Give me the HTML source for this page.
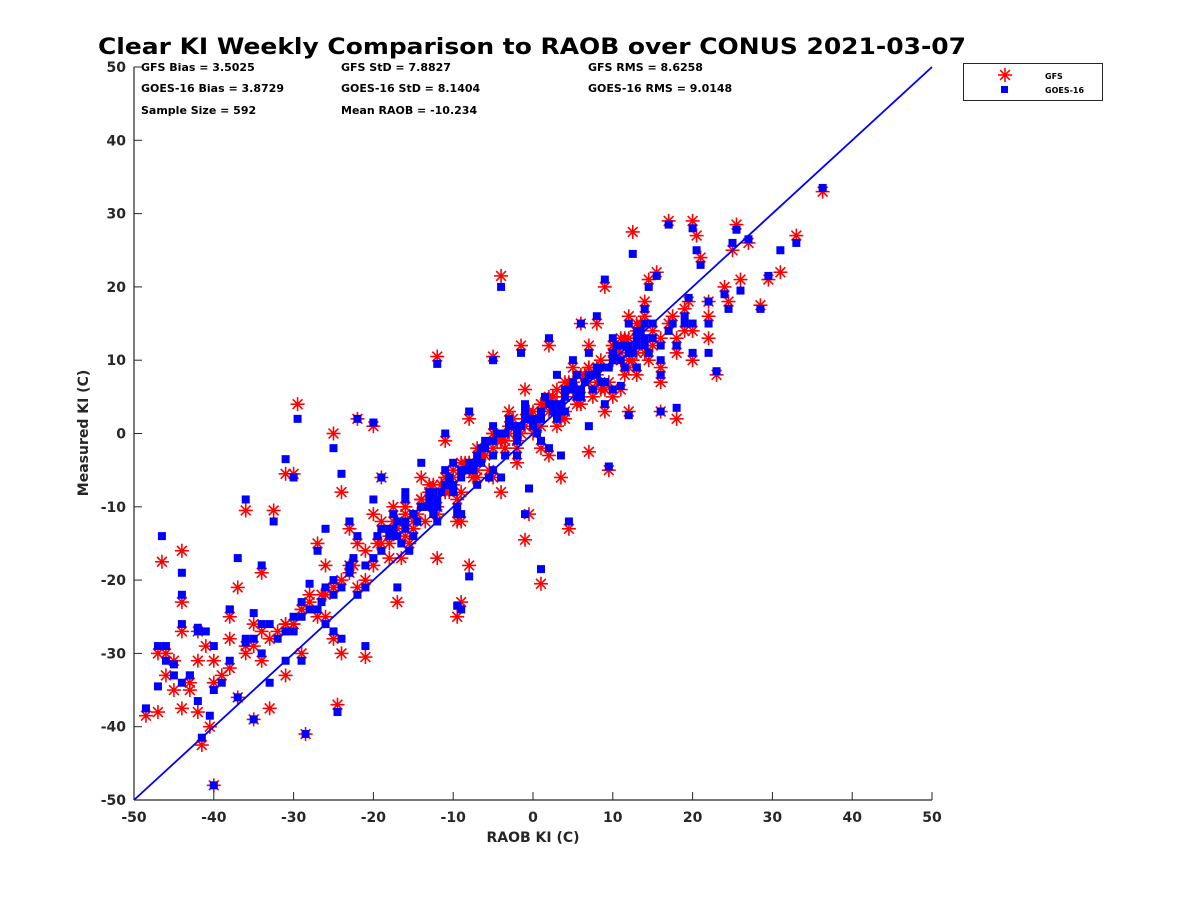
<!DOCTYPE html>
<html><head><meta charset="utf-8"><style>
body{margin:0;background:#fff;}
svg text{font-family:"DejaVu Sans","Liberation Sans",sans-serif;font-weight:bold;}
</style></head><body>
<svg id="chart" width="1200" height="900" viewBox="0 0 1200 900" xmlns="http://www.w3.org/2000/svg">
<rect width="1200" height="900" fill="#fff"/>
<text x="532" y="54" font-size="22" text-anchor="middle" fill="#000" textLength="868" lengthAdjust="spacingAndGlyphs">Clear KI Weekly Comparison to RAOB over CONUS 2021-03-07</text>
<g font-size="11" fill="#000">
<text x="141" y="71">GFS Bias = 3.5025</text>
<text x="141" y="92">GOES-16 Bias = 3.8729</text>
<text x="141" y="114">Sample Size = 592</text>
<text x="341" y="71">GFS StD = 7.8827</text>
<text x="341" y="92">GOES-16 StD = 8.1404</text>
<text x="341" y="114">Mean RAOB = -10.234</text>
<text x="588" y="71">GFS RMS = 8.6258</text>
<text x="588" y="92">GOES-16 RMS = 9.0148</text>
</g>
<g id="plot"></g>
<g id="axes"></g>
<text x="533" y="842" font-size="14" text-anchor="middle" fill="#262626">RAOB KI (C)</text>
<text transform="translate(88,433) rotate(-90)" font-size="14" text-anchor="middle" fill="#262626">Measured KI (C)</text>
<g>
<rect x="963.5" y="63.5" width="139" height="37" fill="#fff" stroke="#262626" stroke-width="1"/>
<g id="legGfs"></g>
<text x="1045" y="79" font-size="8" fill="#000">GFS</text>
<rect x="1001" y="86" width="7" height="7" fill="#0000ff"/>
<text x="1045" y="93" font-size="8" fill="#000">GOES-16</text>
</g>
</svg>
<script>
const raob = [36.3,33,31,29.5,28.5,27,26,25.5,25,24.5,23,22,22,21,20.5,20,19.5,18,17,16,15.5,14.5,13,12.5,12,11,9.5,9,8,6,7,4.5,3.5,2,1,-1,-0.5,-1.5,-4,-5,-9,-9.5,-8,-12,-20,-22,-25,-29.5,-30,-31,-28.5,-24.5,-21,-24,-40,-41.5,-40.5,-40,-42,-44,-46.5,-44,-48.5,-47,-45,-44,-42,-43,-46,-45,-42,-38,-37,-36,-32.5,-34,-35,-36,-37,-35,-33,-31,-30,-29,-28,-27,-26,-26,-25,-24,-23,-22,-21,-20,-19,-18,-17,-16,-15,-14,-13,-12,-11,-10,-9,-8,-7,-6,-5,-4,-3,-2,-1,0,1,2,3,4,5,6,7,8,9,10,11,12,13,14,15,16,17,18,19,20,
-18,-17,-16,-15,-14,-13,-12,-11,-10,-9,-8,-7,-6,-5,-4,-3,-2,-1,0,1,2,3,4,5,6,7,8,9,10,11,12,13,14,15,
-16.5,-15.5,-14.5,-13.5,-12.5,-11.5,-10.5,-9.5,-8.5,-7.5,-6.5,-5.5,-4.5,-3.5,-2.5,-1.5,-0.5,0.5,1.5,2.5,3.5,4.5,5.5,6.5,7.5,8.5,9.5,10.5,11.5,12.5,13.5,
-27,-25,-23,-21,-19,-33,-31,-29,-38,-36,-34,-39,-43,-47,-41,-19.5,-17.5,-22.5,-26.5,16,18,20,22,24,10,12,14,
-19,-18,-17,-16,-15,-14,-13,-12,-11,-10,-9,-8,-7,-6,-5,-4,-3,-2,-1,0,1,2,3,4,5,6,7,8,9,10,11,12,13,14,
-17.5,-16,-14,-12.5,-11,-9.5,-8,-6.5,-5,-3.5,-2,-0.5,1,2.5,4,5.5,7,8.5,10,11.5,13,14.5,16,17.5,19,
-23,-25,-28,-30,-32,-34,-22,-20,-24,-26,-29,-31,-35,-38,-40,-44,-46];
const gfs = [33,27,22,21,17.5,26,21,28.5,25,18,8,13,18,24,27,29,18,2,29,3,22,21,11,27.5,3,6,-5,20,15,15,-2.5,-13,-6,12,-20.5,-14.5,-11,12,21.5,10.5,-23,-25,-18,10.5,1,2,0,4,-5.5,-5.5,-41,-37,-30.5,-30,-48,-42.5,-40,-31,-27,-16,-17.5,-23,-38.5,-38,-35,-37.5,-38,-34,-30,-31,-31,-28,-21,-10.5,-10.5,-19,-26,-30,-36,-39,-37.5,-33,-26,-30,-22,-15,-18,-25,-28,-8,-13,-21,-16,-11,-6,-17,-23,-10,-13,-6,-9,-17,-1,-5,-12,2,-6,-2,0,-8,3,-4,6,0,4,-3,6,2,9,4,12,7,3,12,10,16,8,18,12,9,15,11,17,14,
-14,-12,-10,-13,-9,-8,-11,-6,-7,-4,-5,-2,-3,0,-1,1,-2,2,3,1,5,4,3,6,8,7,9,6,10,11,9,13,12,14,
-17,-15,-11,-12,-10,-7,-8,-9,-4,-6,-3,-5,-1,-2,2,0,3,1,4,5,2,7,6,8,5,10,7,11,13,10,15,
-25,-21,-19,-20,-15,-28,-26,-24,-25,-29,-27,-33,-35,-30,-29,-15,-12,-18,-22,7,13,10,16,20,5,13,11,
-12,-15,-13,-11,-12,-9,-7,-10,-8,-6,-8,-4,-5,-3,-2,-1,0,-1,1,2,4,3,1,5,7,5,9,8,6,11,13,10,14,16,
-10,-14,-9,-7,-6,-12,-4,-3,-6,-1,0,3,-2,5,7,4,9,6,12,8,15,10,13,16,14,
-18,-21,-23,-26,-27,-31,-15,-18,-20,-22,-24,-26,-29,-32,-34,-27,-33];
const goes = [33.5,26,25,21.5,17,26.5,19.5,27.8,26,17,8.5,11,18,23,25,28,18.5,3.5,28.5,3,21.5,20,9,24.5,2.5,6.5,-4.5,21,16,15,1,-12,-3,13,-18.5,-11,-7.5,11,20,10,-24,-23.5,-19.5,9.5,1.5,2,-2,2,-6,-3.5,-41,-38,-29,-28,-48,-41.5,-38.5,-29,-26.5,-19,-14,-22,-37.5,-34.5,-33,-34,-36.5,-33,-29,-31.5,-27,-24,-17,-9,-12,-18,-24.5,-28.5,-36,-39,-34,-31,-27,-31,-20.5,-16,-13,-26,-27,-5.5,-12,-22,-18,-9,-6,-14,-21,-8,-14,-4,-10,-12,0,-4,-11,3,-7,-2,1,-6,1,-3,4,1,2,-2,8,3,10,5,11,9,4,13,12,15,9,17,13,10,14,12,16,15,
-13,-14,-9,-11,-10,-9,-10,-7,-8,-5,-4,-3,-1,-1,0,2,-1,3,2,2,4,3,5,7,6,8,8,7,11,10,11,12,13,15,
-15,-16,-12,-10,-11,-8,-6,-10,-5,-5,-4,-6,0,-3,1,1,2,0,5,3,4,6,8,7,6,9,9,12,12,11,14,
-24,-22,-18,-21,-16,-26,-27,-23,-24,-28,-26,-34,-33,-29,-27,-14,-13,-17,-23,8,12,11,15,19,6,12,12,
-13,-14,-12,-12,-11,-10,-8,-9,-7,-7,-6,-5,-4,-2,-3,0,1,0,2,1,3,4,2,6,6,6,8,9,7,10,12,11,13,15,
-11,-13,-10,-8,-5,-11,-5,-2,-5,0,1,2,-1,4,6,5,8,7,11,9,14,11,12,15,15,
-19,-20,-24,-25,-28,-30,-14,-17,-21,-21,-25,-27,-28,-31,-35,-26,-31];
</script>
<script>
const NS="http://www.w3.org/2000/svg";
const X0=134,X1=932,Y0=800,Y1=67;
const xs=v=>X0+(v+50)/100*(X1-X0);
const ys=v=>Y0-(v+50)/100*(Y0-Y1);
const xTicks=[-50,-40,-30,-20,-10,0,10,20,30,40,50];
const yTicks=[-50,-40,-30,-20,-10,0,10,20,30,40,50];
function mk(t,a,p){const e=document.createElementNS(NS,t);for(const k in a)e.setAttribute(k,a[k]);(p||document.getElementById('plot')).appendChild(e);return e;}
function star(cx,cy,p){const r=7,g=mk('g',{stroke:'#ff0000','stroke-width':1.6},p);
 [[r,0],[0,r],[r*0.7,r*0.7],[r*0.7,-r*0.7]].forEach(d=>mk('line',{x1:cx-d[0],y1:cy-d[1],x2:cx+d[0],y2:cy+d[1]},g));return g;}
const plot=document.getElementById('plot');
for(let i=0;i<raob.length;i++){
 const s=star(xs(raob[i]),ys(gfs[i]),plot);
 
 
}
for(let i=0;i<raob.length;i++){
 const r=mk('rect',{x:xs(raob[i])-4,y:ys(goes[i])-4,width:8,height:8,fill:'#0000ff'},plot);
 
 
}
const ln=mk('line',{x1:xs(-50),y1:ys(-50),x2:xs(50),y2:ys(50),stroke:'#0000ff','stroke-width':1.8},plot);


const ax=document.getElementById('axes');
const xa=mk('line',{x1:X0,y1:Y0,x2:X1,y2:Y0,stroke:'#262626','stroke-width':1.2},ax);


const ya=mk('line',{x1:X0,y1:Y0,x2:X0,y2:Y1,stroke:'#262626','stroke-width':1.2},ax);


xTicks.forEach(v=>{mk('line',{x1:xs(v),y1:Y0,x2:xs(v),y2:Y0-8,stroke:'#262626'},ax);
 const t=mk('text',{x:xs(v),y:Y0+22,'font-size':14,'text-anchor':'middle',fill:'#262626'},ax);t.textContent=v;
 
 });
yTicks.forEach(v=>{mk('line',{x1:X0,y1:ys(v),x2:X0+8,y2:ys(v),stroke:'#262626'},ax);
 const t=mk('text',{x:X0-8,y:ys(v)+5,'font-size':14,'text-anchor':'end',fill:'#262626'},ax);t.textContent=v;
 
 });
const ls=star(1005,75,document.getElementById('legGfs'));


</script>
</body></html>
